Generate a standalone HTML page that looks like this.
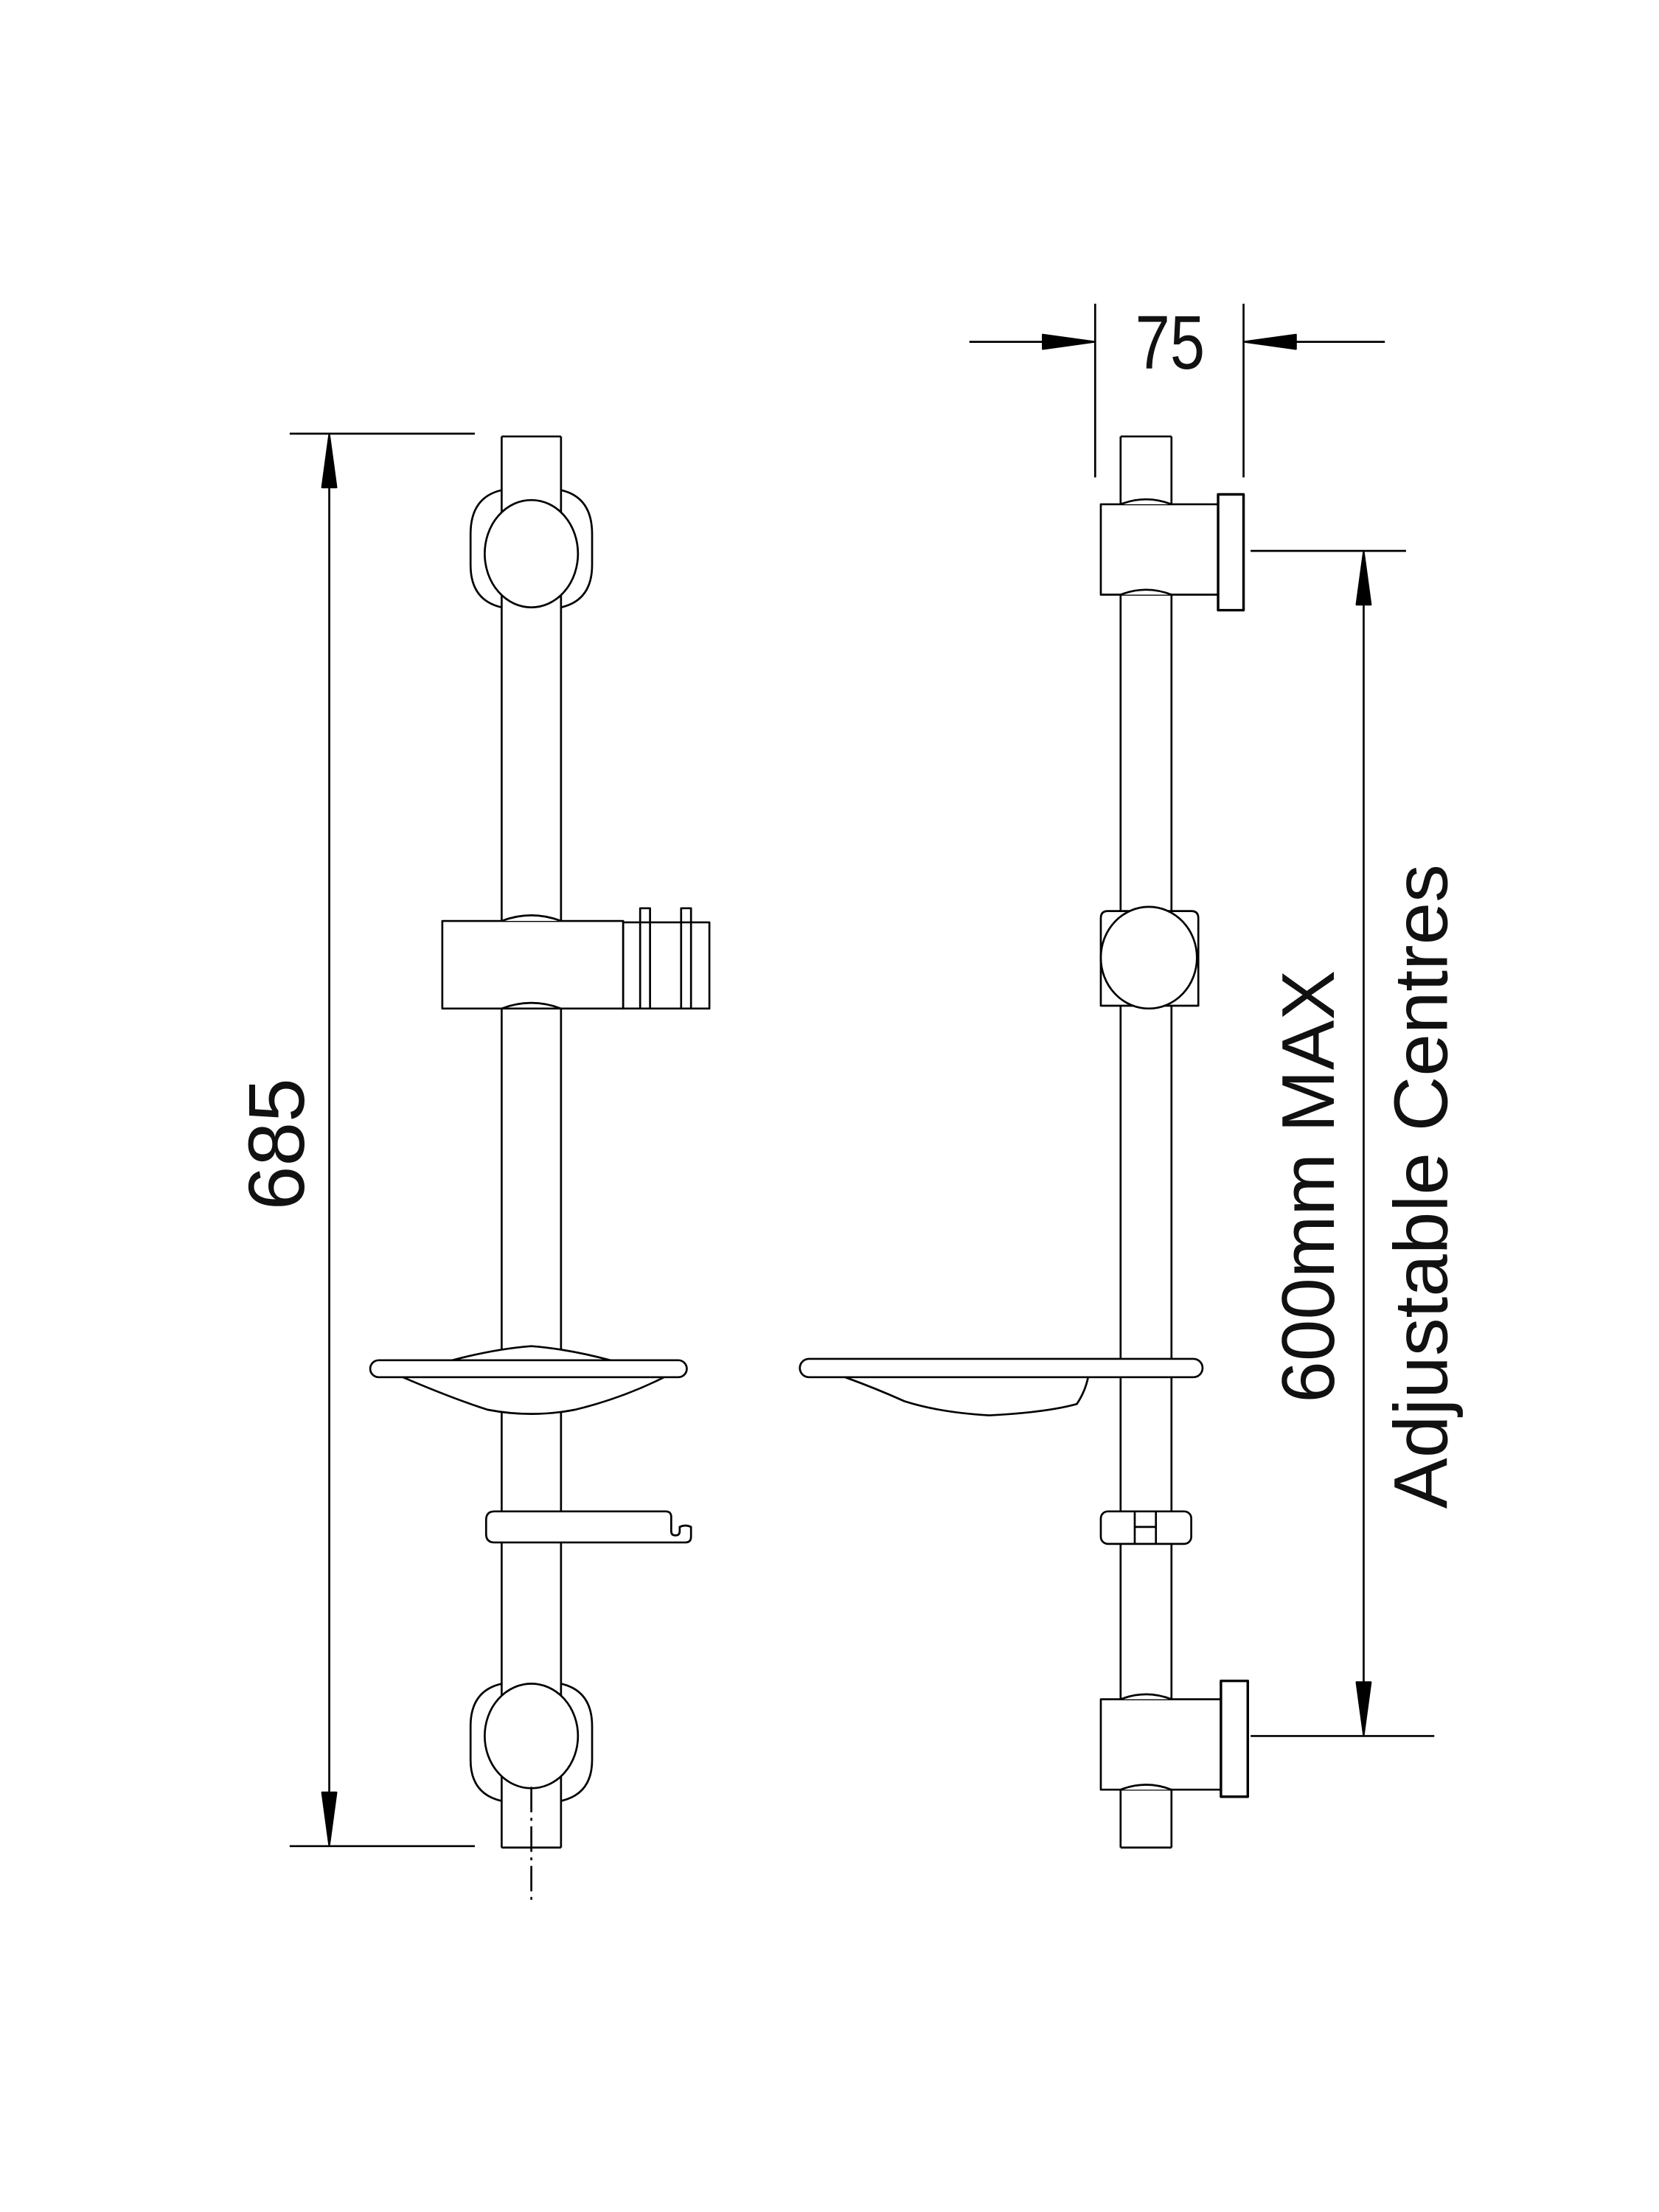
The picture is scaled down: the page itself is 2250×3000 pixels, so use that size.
<!DOCTYPE html>
<html><head><meta charset="utf-8"><style>html,body{margin:0;padding:0;background:#fff}svg{display:block}</style></head>
<body>
<svg width="2250" height="3000" viewBox="0 0 1174 1566" preserveAspectRatio="none" xmlns="http://www.w3.org/2000/svg">
<rect width="1174" height="1566" fill="#fff"/>
<g fill="none" stroke="#000" stroke-width="1.4" stroke-linejoin="round">
<line x1="205" y1="307" x2="336" y2="307"/>
<line x1="205" y1="1307" x2="336" y2="1307"/>
<line x1="233" y1="340" x2="233" y2="1275"/>
<polygon points="233,308 228,345 238,345" fill="#000"/>
<polygon points="233,1306 228,1269 238,1269" fill="#000"/>

<line x1="355" y1="309" x2="397" y2="309"/>
<line x1="355" y1="309" x2="355" y2="1308"/>
<line x1="397" y1="309" x2="397" y2="1308"/>
<line x1="355" y1="1308" x2="397" y2="1308"/>

<path d="M355,347 Q333,352 333,378 L333,400 Q333,425 355,430"/>
<path d="M397,347 Q419,352 419,378 L419,400 Q419,425 397,430"/>
<ellipse cx="376" cy="392" rx="33" ry="38" fill="#fff"/>

<path d="M355,1192 Q333,1197 333,1222 L333,1246 Q333,1270 355,1275"/>
<path d="M397,1192 Q419,1197 419,1222 L419,1246 Q419,1270 397,1275"/>
<ellipse cx="376" cy="1229" rx="33" ry="37" fill="#fff"/>
<line x1="376" y1="1265" x2="376" y2="1345" stroke-dasharray="18,4,2,4"/>

<rect x="313" y="652" width="128" height="62" fill="#fff"/>
<path d="M355,652 Q376,644 397,652" fill="#fff"/>
<path d="M355,714 Q376,706 397,714"/>
<rect x="441" y="653" width="61" height="61" fill="#fff"/>
<path d="M453,714 L453,643 L460,643 L460,714"/>
<path d="M482,714 L482,643 L489,643 L489,714"/>

<path d="M285,975 Q320,990 345,998 Q376,1004 407,998 Q440,990 470,975" fill="#fff"/>
<path d="M320,963 Q350,955 376,953 Q402,955 432,963" fill="#fff"/>
<rect x="262" y="963" width="224" height="12" rx="6" fill="#fff"/>

<path d="M350,1070 L471,1070 Q475,1070 475,1074 L475,1084 Q475,1087 478,1087 Q481,1087 481,1084 L481,1081 Q485,1079 489,1081 L489,1088 Q489,1092 485,1092 L350,1092 Q344,1092 344,1086 L344,1076 Q344,1070 350,1070 Z" fill="#fff"/>

<line x1="775" y1="215" x2="775" y2="338"/>
<line x1="880" y1="215" x2="880" y2="338"/>
<line x1="686" y1="242" x2="745" y2="242"/>
<polygon points="774,242 738,237 738,247" fill="#000"/>
<line x1="912" y1="242" x2="980" y2="242"/>
<polygon points="881,242 917,237 917,247" fill="#000"/>

<line x1="793" y1="309" x2="829" y2="309"/>
<line x1="793" y1="309" x2="793" y2="1308"/>
<line x1="829" y1="309" x2="829" y2="1308"/>
<line x1="793" y1="1308" x2="829" y2="1308"/>

<rect x="779" y="357" width="83" height="64" fill="#fff"/>
<path d="M793,357 Q811,350 829,357" fill="#fff"/>
<path d="M793,421 Q811,414 829,421" fill="#fff"/>
<rect x="862" y="350" width="18" height="82" fill="#fff" stroke-width="1.8"/>

<line x1="885" y1="390" x2="995" y2="390"/>
<line x1="885" y1="1229" x2="1015" y2="1229"/>
<line x1="965" y1="420" x2="965" y2="1200"/>
<polygon points="965,391 960,428 970,428" fill="#000"/>
<polygon points="965,1228 960,1191 970,1191" fill="#000"/>

<path d="M779,712 L779,650 Q779,645 784,645 L843,645 Q848,645 848,650 L848,712 Z" fill="#fff"/>
<ellipse cx="813" cy="678" rx="34" ry="36" fill="#fff"/>

<path d="M598,975 Q620,983 640,992 Q665,1000 700,1002 Q740,1000 762,994 Q768,985 770,975" fill="#fff"/>
<rect x="566" y="962" width="285" height="13" rx="6.5" fill="#fff"/>

<rect x="779" y="1070" width="64" height="23" rx="5" fill="#fff"/>
<line x1="803" y1="1070" x2="803" y2="1093"/>
<line x1="818" y1="1070" x2="818" y2="1093"/>
<line x1="803" y1="1081" x2="818" y2="1081"/>

<rect x="779" y="1203" width="85" height="64" fill="#fff"/>
<path d="M793,1203 Q811,1196 829,1203" fill="#fff"/>
<path d="M793,1267 Q811,1260 829,1267" fill="#fff"/>
<rect x="864" y="1190" width="19" height="82" fill="#fff" stroke-width="1.8"/>
</g>

<g font-family="'Liberation Sans', Arial, sans-serif" fill="#111">
<text font-size="54" text-anchor="middle" transform="translate(828,261) scale(0.82,1)">75</text>
<text transform="translate(215,810) rotate(-90)" font-size="56" text-anchor="middle">685</text>
<text transform="translate(944,840) rotate(-90)" font-size="53" text-anchor="middle">600mm MAX</text>
<text transform="translate(1024,840) rotate(-90)" font-size="54" text-anchor="middle">Adjustable Centres</text>
</g>
</svg>
</body></html>
